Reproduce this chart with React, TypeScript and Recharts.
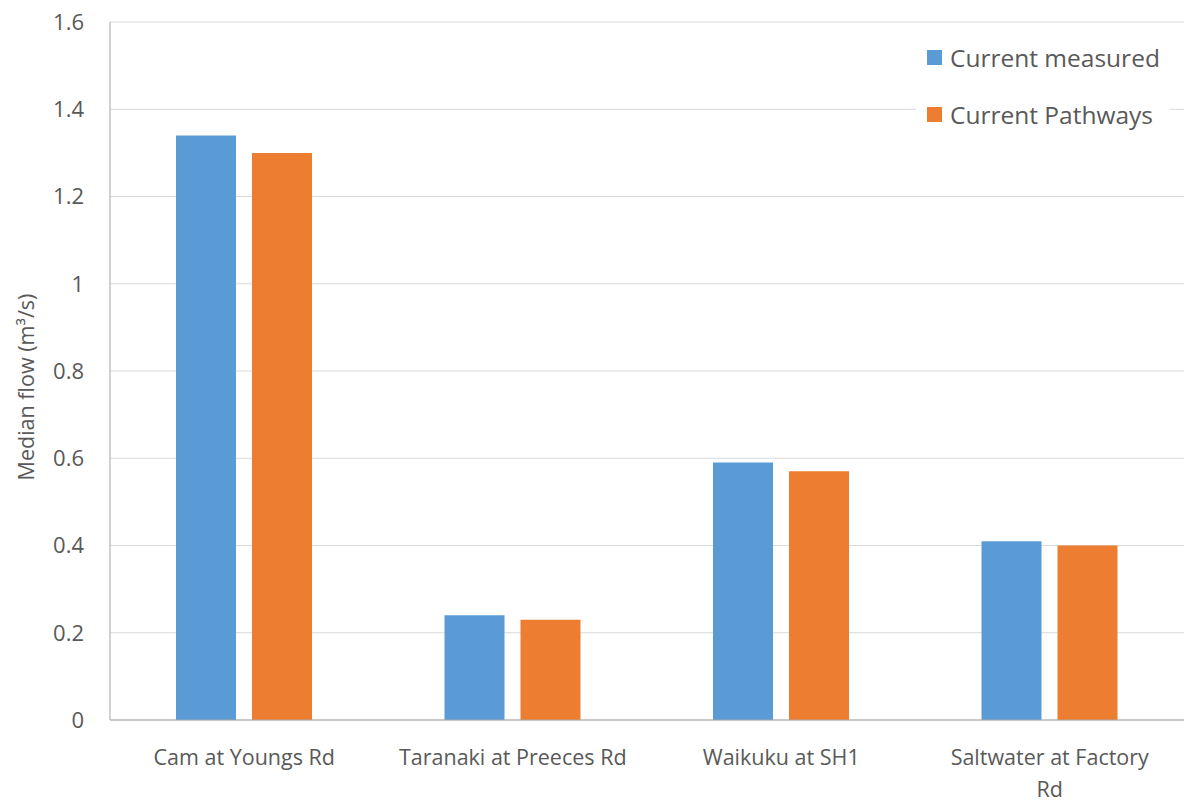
import React from "react";
import { BarChart, Bar, XAxis, YAxis, CartesianGrid } from "recharts";

const sites = [
  "Cam at Youngs Rd",
  "Taranaki at Preeces Rd",
  "Waikuku at SH1",
  "Saltwater at Factory Rd",
];
// how the category labels break onto lines under the axis
const siteLines = [
  ["Cam at Youngs Rd"],
  ["Taranaki at Preeces Rd"],
  ["Waikuku at SH1"],
  ["Saltwater at Factory", "Rd"],
];
const measured = [1.34, 0.24, 0.59, 0.41];
const pathways = [1.3, 0.23, 0.57, 0.4];
const yTicks = [0, 0.2, 0.4, 0.6, 0.8, 1, 1.2, 1.4, 1.6];

const series = [
  { key: "measured", name: "Current measured", color: "#5b9bd5" },
  { key: "pathways", name: "Current Pathways", color: "#ed7d31" },
];

const data = sites.map((site, i) => ({
  site,
  measured: measured[i],
  pathways: pathways[i],
}));

const FONT = "'Open Sans', 'Noto Sans', sans-serif";
const TEXT = "#595959";

const SiteTick = (props: any) => {
  const { x, y, index } = props;
  const lines = siteLines[index] || [props.payload.value];
  return (
    <text
      x={x}
      y={y}
      textAnchor="middle"
      fill={TEXT}
      fontSize={21.5}
      fontFamily={FONT}
    >
      {lines.map((l: string, i: number) => (
        <tspan key={i} x={x} dy={i === 0 ? "0.71em" : 32}>
          {l}
        </tspan>
      ))}
    </text>
  );
};

const YLabel = () => (
  <text
    x={25}
    y={387}
    transform="rotate(-90, 25, 387)"
    textAnchor="middle"
    dominantBaseline="central"
    fill={TEXT}
    fontSize={21.5}
    fontFamily={FONT}
  >
    Median flow (m³/s)
  </text>
);

export default function App() {
  return (
    <div
      style={{
        position: "absolute",
        left: 0,
        top: 0,
        width: 1184,
        height: 803,
        background: "#fff",
      }}
    >
      <BarChart
        width={1184}
        height={803}
        data={data}
        margin={{ top: 22, right: 0, bottom: 0, left: 0 }}
        barCategoryGap={66}
        barGap={16}
      >
        <CartesianGrid vertical={false} stroke="#d9d9d9" />
        <XAxis
          dataKey="site"
          tick={<SiteTick />}
          tickLine={false}
          axisLine={{ stroke: "#a6a6a6" }}
          height={83}
          tickSize={0}
          tickMargin={30}
          interval={0}
        />
        <YAxis
          domain={[0, 1.6]}
          ticks={yTicks}
          width={110}
          tickLine={false}
          tickSize={0}
          tickMargin={26}
          axisLine={{ stroke: "#a6a6a6" }}
          tick={{ fill: TEXT, fontSize: 22, fontFamily: FONT }}
          label={<YLabel />}
        />
        {series.map((s) => (
          <Bar
            key={s.key}
            dataKey={s.key}
            name={s.name}
            fill={s.color}
            isAnimationActive={false}
          />
        ))}
      </BarChart>
      <div
        style={{
          position: "absolute",
          left: 916,
          top: 29,
          background: "#fff",
          padding: "0 10px 0 11px",
        }}
      >
        {series.map((s) => (
          <div
            key={s.key}
            style={{
              display: "flex",
              alignItems: "center",
              height: 57,
              fontFamily: FONT,
              fontSize: 24.5,
              color: TEXT,
              whiteSpace: "nowrap",
            }}
          >
            <span
              style={{
                width: 15,
                height: 15,
                background: s.color,
                marginRight: 8,
                display: "inline-block",
              }}
            />
            {s.name}
          </div>
        ))}
      </div>
    </div>
  );
}
